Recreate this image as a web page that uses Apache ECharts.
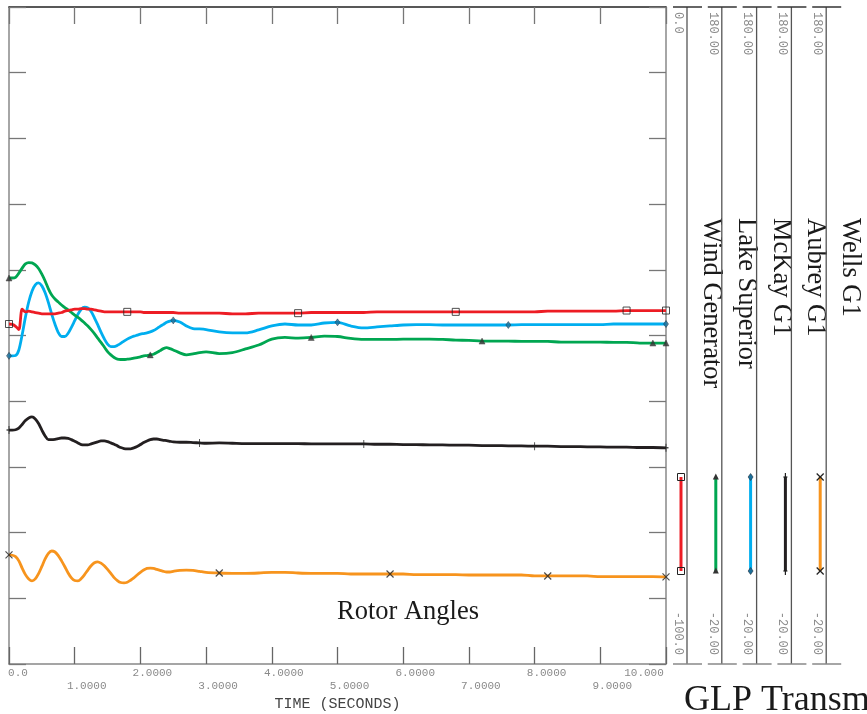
<!DOCTYPE html>
<html>
<head>
<meta charset="utf-8">
<script src="https://cdn.jsdelivr.net/npm/echarts@6/dist/echarts.min.js"></script>
<style>
html,body{margin:0;padding:0;background:#ffffff;}
#chart{width:867px;height:714px;}
</style>
</head>
<body>
<div id="chart"></div>
<script>
// ---------------- DATA ----------------
const time = [
  0,0.05,0.1,0.15,0.2,0.25,0.3,0.35,0.4,0.45,
  0.5,0.55,0.6,0.65,0.7,0.75,0.8,0.85,0.9,0.95,
  1.0,1.05,1.1,1.15,1.2,1.25,1.3,1.35,1.4,1.45,
  1.5,1.55,1.6,1.65,1.7,1.75,1.8,1.85,1.9,1.95,
  2.0,2.05,2.1,2.15,2.2,2.25,2.3,2.35,2.4,2.45,
  2.5,2.6,2.7,2.8,2.9,3.0,
  3.2,3.4,3.6,3.8,4.0,4.2,4.4,4.6,4.8,5.0,
  5.2,5.4,5.6,5.8,6.0,6.2,6.4,6.6,6.8,7.0,
  7.2,7.4,7.6,7.8,8.0,8.2,8.4,8.6,8.8,9.0,
  9.2,9.4,9.6,9.8,10.0];

const windGenerator = [
  -48.25,-48.3,-48.6,-49.1,-46.0,-46.4,-46.3,-46.4,-46.5,-46.6,
  -46.7,-46.7,-46.7,-46.7,-46.7,-46.6,-46.5,-46.3,-46.2,-46.1,
  -46.0,-46.0,-45.9,-45.9,-46.0,-46.0,-46.1,-46.2,-46.3,-46.4,
  -46.4,-46.4,-46.4,-46.4,-46.4,-46.4,-46.4,-46.4,-46.4,-46.4,
  -46.4,-46.5,-46.5,-46.5,-46.5,-46.5,-46.5,-46.5,-46.5,-46.5,
  -46.5,-46.6,-46.6,-46.6,-46.6,-46.6,
  -46.6,-46.7,-46.7,-46.6,-46.6,-46.6,-46.6,-46.5,-46.5,-46.5,
  -46.5,-46.5,-46.4,-46.4,-46.4,-46.4,-46.4,-46.4,-46.4,-46.4,
  -46.4,-46.4,-46.4,-46.4,-46.4,-46.3,-46.3,-46.3,-46.3,-46.3,
  -46.3,-46.2,-46.2,-46.2,-46.2];

const lakeSuperior = [
  97.5,97.5,97.7,99.0,100.5,101.8,102.2,102.1,101.5,100.4,
  98.7,96.6,94.2,92.3,91.1,90.2,89.3,88.5,87.8,87.0,
  86.2,85.5,84.7,83.8,82.9,81.8,80.6,79.2,77.9,76.5,
  75.1,74.1,73.3,72.8,72.7,72.7,72.8,72.9,73.1,73.3,
  73.5,73.8,73.9,74.1,74.3,74.8,75.4,76.0,76.3,76.0,
  75.6,74.7,74.1,74.4,74.8,75.0,
  74.5,74.8,75.9,77.1,78.9,79.4,79.2,79.4,79.8,79.7,
  79.1,78.8,78.8,78.8,78.9,78.9,78.9,78.8,78.6,78.5,
  78.3,78.3,78.3,78.2,78.2,78.2,78.0,78.0,78.0,78.0,
  77.9,77.9,77.7,77.7,77.7];

const mckayG1 = [
  73.8,73.8,73.9,75.6,80.2,85.6,90.2,93.5,95.4,96.0,
  95.1,93.0,90.0,86.5,83.4,80.9,79.7,79.7,80.7,82.5,
  84.5,86.5,88.0,88.6,88.4,87.3,85.4,83.3,81.0,79.0,
  77.4,76.6,76.6,77.0,77.6,78.3,78.9,79.4,79.8,80.1,
  80.4,80.6,80.8,81.1,81.5,82.1,82.8,83.4,84.0,84.4,
  84.6,84.1,82.9,82.1,82.0,81.8,
  81.1,80.8,80.8,81.7,82.9,83.5,83.2,83.2,83.8,84.0,
  82.9,82.3,82.6,82.9,83.2,83.3,83.3,83.2,83.2,83.2,
  83.2,83.2,83.2,83.3,83.3,83.3,83.3,83.3,83.3,83.3,
  83.5,83.5,83.5,83.5,83.5];

const aubreyG1 = [
  51.2,51.2,51.3,51.8,52.9,54.1,54.9,55.2,54.6,53.2,
  51.2,49.4,48.3,48.3,48.4,48.6,48.8,48.8,48.7,48.3,
  47.8,47.3,46.8,46.7,46.7,47.0,47.3,47.6,47.9,47.9,
  47.7,47.3,46.9,46.4,45.9,45.6,45.5,45.5,45.8,46.2,
  46.8,47.4,47.9,48.3,48.5,48.5,48.3,48.1,48.0,47.8,
  47.6,47.5,47.5,47.4,47.3,47.2,
  47.3,47.2,47.1,47.1,47.1,47.1,47.1,47.0,47.0,47.0,
  47.0,47.0,46.9,46.9,46.8,46.8,46.7,46.7,46.6,46.6,
  46.5,46.5,46.4,46.4,46.3,46.3,46.2,46.2,46.1,46.1,
  46.0,46.0,45.9,45.9,45.8];

const wellsG1 = [
  13.2,13.1,12.7,11.4,9.2,7.2,5.9,5.3,5.9,7.5,
  9.7,12.0,13.7,14.4,14.1,13.0,11.4,9.6,7.7,6.2,
  5.4,5.3,6.0,7.2,8.6,9.9,10.8,11.1,10.7,9.9,
  8.8,7.6,6.3,5.4,4.8,4.7,4.9,5.5,6.2,7.1,
  7.9,8.6,9.1,9.2,9.1,8.8,8.5,8.2,8.0,8.0,
  8.2,8.5,8.6,8.5,8.2,7.9,
  7.7,7.6,7.6,7.7,7.9,7.9,7.7,7.6,7.6,7.6,
  7.4,7.4,7.4,7.4,7.4,7.2,7.2,7.2,7.2,7.1,
  7.1,7.1,7.1,7.1,6.8,6.8,6.8,6.8,6.8,6.6,
  6.6,6.6,6.6,6.6,6.5];

// marker times (identification symbols along each trace)
const windMarkers = [0,1.8,4.4,6.8,9.4,10.0];
const lakeMarkers = [0,2.15,4.6,7.2,9.8,10.0];
const mckayMarkers = [0,2.5,5.0,7.6,10.0];
const aubreyMarkers = [0,2.9,5.4,8.0,10.0];
const wellsMarkers = [0,3.2,5.8,8.2,10.0];

const channelNames = ['Wind Generator','Lake Superior','McKay G1','Aubrey G1','Wells G1'];
const scaleMax = [0.0, 180.0, 180.0, 180.0, 180.0];
const scaleMin = [-100.0, -20.0, -20.0, -20.0, -20.0];
const scaleMaxLabels = ['0.0','180.00','180.00','180.00','180.00'];
const scaleMinLabels = ['-100.0','-20.00','-20.00','-20.00','-20.00'];
const xTickLabels = ['0.0','1.0000','2.0000','3.0000','4.0000','5.0000','6.0000','7.0000','8.0000','9.0000','10.000'];
const xAxisTitle = 'TIME (SECONDS)';
const plotTitle = 'Rotor Angles';
const pageTitle = 'GLP Transmission';

// ---------------- STYLE ----------------
const colors = ['#ed1c24','#00a651','#00aeef','#231f20','#f7941d'];
const G = {left:9, top:7, width:657, height:657};
const plotRight = G.left + G.width;
const plotBottom = G.top + G.height;
const colStep = 34.8;
const colX = i => plotRight + 21 + colStep * i;
const monoFont = '"Liberation Mono", "DejaVu Sans Mono", monospace';
const serifFont = '"Liberation Serif", "DejaVu Serif", serif';

const seriesValues = [windGenerator, lakeSuperior, mckayG1, aubreyG1, wellsG1];
const seriesMarkers = [windMarkers, lakeMarkers, mckayMarkers, aubreyMarkers, wellsMarkers];
const yIndex = [1, 0, 0, 0, 0];

const symbolDefs = [
  {symbol:'rect', size:7, itemStyle:{color:'rgba(255,255,255,0)', borderColor:'#222', borderWidth:1}},
  {symbol:'triangle', size:6, itemStyle:{color:'#333', borderColor:'#333', borderWidth:0.5}},
  {symbol:'diamond', size:[5,7], itemStyle:{color:'#1b6f9a', borderColor:'#203040', borderWidth:0.6}},
  {symbol:'path://M5,0L5,10M3,5L7,5', size:[5,8], itemStyle:{color:'rgba(0,0,0,0)', borderColor:'#222', borderWidth:1.2}},
  {symbol:'path://M0,0L10,10M10,0L0,10', size:7, itemStyle:{color:'rgba(0,0,0,0)', borderColor:'#222', borderWidth:1.2}}
];

const series = [];
seriesValues.forEach((vals, i) => {
  series.push({
    name: channelNames[i],
    type: 'line',
    xAxisIndex: 0,
    yAxisIndex: yIndex[i],
    data: time.map((t, k) => [t, vals[k]]),
    showSymbol: false,
    symbol: 'none',
    smooth: 0.3,
    lineStyle: {color: colors[i], width: 2.8},
    z: 3 + (4 - i),
    silent: true
  });
});
seriesValues.forEach((vals, i) => {
  const sd = symbolDefs[i];
  series.push({
    type: 'scatter',
    xAxisIndex: 0,
    yAxisIndex: yIndex[i],
    data: seriesMarkers[i].map(t => [t, vals[time.indexOf(t)]]),
    symbol: sd.symbol,
    symbolSize: sd.size,
    itemStyle: sd.itemStyle,
    z: 10,
    silent: true,
    clip: false
  });
});

// ---------------- graphic: scale columns, legend, texts ----------------
const gfx = [];
function markerShapes(kind, x, y) {
  const out = [];
  if (kind === 0) {
    out.push({type:'rect', shape:{x:x-3.5, y:y-3.5, width:7, height:7}, style:{fill:'none', stroke:'#222', lineWidth:1}, z:20});
  } else if (kind === 1) {
    out.push({type:'polygon', shape:{points:[[x, y-3.5],[x-3, y+2.5],[x+3, y+2.5]]}, style:{fill:'#333'}, z:20});
  } else if (kind === 2) {
    out.push({type:'polygon', shape:{points:[[x, y-3.5],[x+2.5, y],[x, y+3.5],[x-2.5, y]]}, style:{fill:'#1b6f9a', stroke:'#203040', lineWidth:0.6}, z:20});
  } else if (kind === 3) {
    out.push({type:'line', shape:{x1:x, y1:y-4, x2:x, y2:y+4}, style:{stroke:'#222', lineWidth:1.2}, z:20});
    out.push({type:'line', shape:{x1:x-2, y1:y, x2:x+2, y2:y}, style:{stroke:'#222', lineWidth:1.2}, z:20});
  } else {
    out.push({type:'line', shape:{x1:x-3.5, y1:y-3.5, x2:x+3.5, y2:y+3.5}, style:{stroke:'#222', lineWidth:1.2}, z:20});
    out.push({type:'line', shape:{x1:x+3.5, y1:y-3.5, x2:x-3.5, y2:y+3.5}, style:{stroke:'#222', lineWidth:1.2}, z:20});
  }
  return out;
}
const legTop = 477, legBottom = 571;
for (let i = 0; i < 5; i++) {
  const L = colX(i);
  gfx.push({type:'line', shape:{x1:L, y1:G.top, x2:L, y2:plotBottom}, style:{stroke:'#555', lineWidth:1.3}});
  gfx.push({type:'line', shape:{x1:L-14, y1:G.top, x2:L+15, y2:G.top}, style:{stroke:'#333', lineWidth:1.5}});
  gfx.push({type:'line', shape:{x1:L-14, y1:plotBottom, x2:L+15, y2:plotBottom}, style:{stroke:'#888', lineWidth:1.5}});
  gfx.push({type:'text', x:L-9, y:G.top+5, rotation:-Math.PI/2,
    style:{text:scaleMaxLabels[i], fontFamily:monoFont, fontSize:12, fill:'#8a8a8a', align:'left', verticalAlign:'middle'}});
  gfx.push({type:'text', x:L-9, y:plotBottom-9, rotation:-Math.PI/2,
    style:{text:scaleMinLabels[i], fontFamily:monoFont, fontSize:12, fill:'#8a8a8a', align:'right', verticalAlign:'middle'}});
  const lx = L - 6;
  gfx.push({type:'line', shape:{x1:lx, y1:legTop, x2:lx, y2:legBottom}, style:{stroke:colors[i], lineWidth:3}, z:15});
  markerShapes(i, lx, legTop).forEach(e => gfx.push(e));
  markerShapes(i, lx, legBottom).forEach(e => gfx.push(e));
  gfx.push({type:'text', x:L+24, y:218, rotation:-Math.PI/2,
    style:{text:channelNames[i], fontFamily:serifFont, fontSize:26.5, fill:'#1a1a1a', align:'left', verticalAlign:'middle'}});
}
gfx.push({type:'text', x:408, y:612, style:{text:plotTitle, fontFamily:serifFont, fontSize:26.5, fill:'#1a1a1a', align:'center', verticalAlign:'middle'}});
gfx.push({type:'text', x:684, y:701, style:{text:pageTitle, fontFamily:serifFont, fontSize:36, fill:'#1a1a1a', align:'left', verticalAlign:'middle'}});

const labelRich = {
  z: {fontFamily:monoFont, fontSize:11, color:'#8a8a8a', padding:[0,0,0,18]},
  e: {fontFamily:monoFont, fontSize:11, color:'#8a8a8a', padding:[0,0,0,24]},
  o: {fontFamily:monoFont, fontSize:11, color:'#8a8a8a', padding:[13,0,0,24]},
  t: {fontFamily:monoFont, fontSize:11, color:'#8a8a8a', padding:[0,44,0,0]}
};

const option = {
  animation: false,
  backgroundColor: '#ffffff',
  grid: {left:G.left, top:G.top, width:G.width, height:G.height, containLabel:false, outerBoundsMode:'none'},
  xAxis: [
    {
      type:'value', position:'bottom', min:0, max:10, interval:1,
      axisLine:{onZero:false, lineStyle:{color:'#888', width:1.5}},
      axisTick:{inside:true, length:17, lineStyle:{color:'#666', width:1.3}},
      splitLine:{show:false},
      axisLabel:{
        margin:4, align:'center',
        formatter: v => {
          const i = Math.round(v);
          const s = xTickLabels[i];
          if (i === 0) return '{z|' + s + '}';
          if (i === 10) return '{t|' + s + '}';
          return (i % 2 ? '{o|' : '{e|') + s + '}';
        },
        rich: labelRich
      },
      name: xAxisTitle, nameLocation:'middle', nameGap:32,
      nameTextStyle:{fontFamily:monoFont, fontSize:15, color:'#444'}
    },
    {
      type:'value', position:'top', min:0, max:10, interval:1,
      axisLine:{onZero:false, lineStyle:{color:'#222', width:1.5}},
      axisTick:{inside:true, length:17, lineStyle:{color:'#777', width:1.3}},
      axisLabel:{show:false}, splitLine:{show:false}
    }
  ],
  yAxis: [
    {
      type:'value', position:'left', min:scaleMin[1], max:scaleMax[1], interval:20,
      axisLine:{show:true, onZero:false, lineStyle:{color:'#888', width:1.5}},
      axisTick:{show:true, inside:true, length:17, lineStyle:{color:'#777', width:1.3}},
      axisLabel:{show:false}, splitLine:{show:false}
    },
    {
      type:'value', position:'right', min:scaleMin[0], max:scaleMax[0], interval:10,
      axisLine:{show:true, onZero:false, lineStyle:{color:'#888', width:1.5}},
      axisTick:{show:true, inside:true, length:17, lineStyle:{color:'#777', width:1.3}},
      axisLabel:{show:false}, splitLine:{show:false}
    }
  ],
  series: series,
  graphic: {elements: gfx}
};

const chart = echarts.init(document.getElementById('chart'), null, {renderer:'canvas'});
chart.setOption(option);
</script>
</body>
</html>
